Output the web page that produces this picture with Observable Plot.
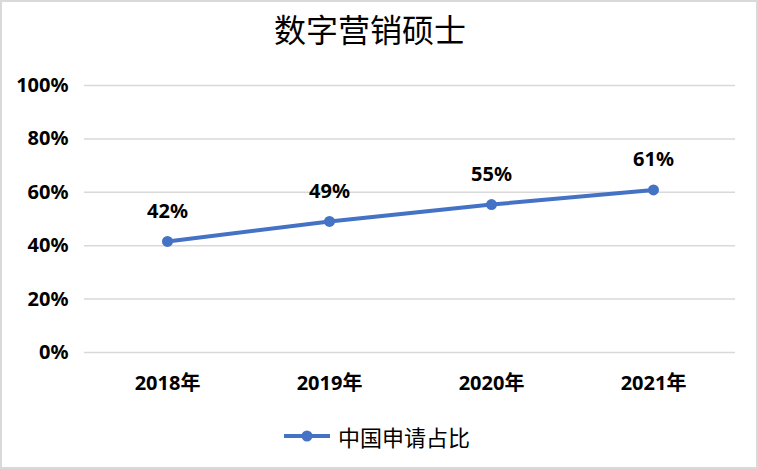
<!DOCTYPE html>
<html>
<head>
<meta charset="utf-8">
<script src="https://cdn.jsdelivr.net/npm/d3@7"></script>
<script src="https://cdn.jsdelivr.net/npm/@observablehq/plot@0.6"></script>
<style>
  html, body { margin: 0; padding: 0; background: #fff; }
  #wrap { position: relative; width: 758px; height: 469px; box-sizing: border-box; border: 2px solid #d9d9d9; background: #fff; overflow: hidden; }
  #title { position: absolute; left: 0; top: 6px; width: 736px; text-align: center; font-family: "Noto Sans CJK SC", sans-serif; font-size: 32px; line-height: 40px; color: #000; font-weight: 400; }
  #chart { position: absolute; left: 0; top: 0; }
  #legend { position: absolute; left: 281px; top: 419px; height: 30px; display: flex; align-items: center; font-family: "Noto Sans CJK SC", sans-serif; font-size: 22px; color: #000; }
  #legend svg { margin-right: 7px; }
</style>
</head>
<body>
<div id="wrap">
  <div id="title">数字营销硕士</div>
  <div id="chart"></div>
  <div id="legend"></div>
</div>
<script>
const years = ["2018年", "2019年", "2020年", "2021年"];
const shares = [0.416, 0.491, 0.554, 0.609];
const yTicks = [0, 0.2, 0.4, 0.6, 0.8, 1.0];
const seriesName = "中国申请占比";
const lineColor = "#4472C4";

const data = years.map((y, i) => ({year: y, share: shares[i]}));

const chart = Plot.plot({
  width: 754,
  height: 400,
  marginLeft: 82,
  marginRight: 21,
  marginTop: 83,
  marginBottom: 50,
  style: {fontFamily: '"Noto Sans", "Noto Sans CJK SC", sans-serif', fontSize: "20px", fontWeight: "bold", color: "#000", background: "transparent"},
  x: {type: "point", domain: years, padding: 0.5, label: null},
  y: {domain: [0, 1], label: null},
  marks: [
    Plot.ruleY(yTicks, {stroke: "#d9d9d9", strokeWidth: 1.5}),
    Plot.axisY(yTicks, {tickSize: 0, tickPadding: 16, tickFormat: d3.format(".0%"), fontSize: 20, fontWeight: "bold", label: null}),
    Plot.axisX({tickSize: 0, tickPadding: 23, fontSize: 20, fontWeight: "bold", label: null}),
    Plot.line(data, {x: "year", y: "share", stroke: lineColor, strokeWidth: 4}),
    Plot.dot(data, {x: "year", y: "share", r: 5.5, fill: lineColor, stroke: "none"}),
    Plot.text(data, {x: "year", y: "share", text: d => Math.round(d.share * 100) + "%", dy: -30, fontSize: 20, fontWeight: "bold", fill: "#000"})
  ]
});
document.getElementById("chart").appendChild(chart);

const legend = document.getElementById("legend");
legend.innerHTML = `<svg width="48" height="14"><line x1="1" y1="7" x2="47" y2="7" stroke="${lineColor}" stroke-width="4"/><circle cx="24" cy="7" r="5.5" fill="${lineColor}"/></svg><span>${seriesName}</span>`;
</script>
</body>
</html>
